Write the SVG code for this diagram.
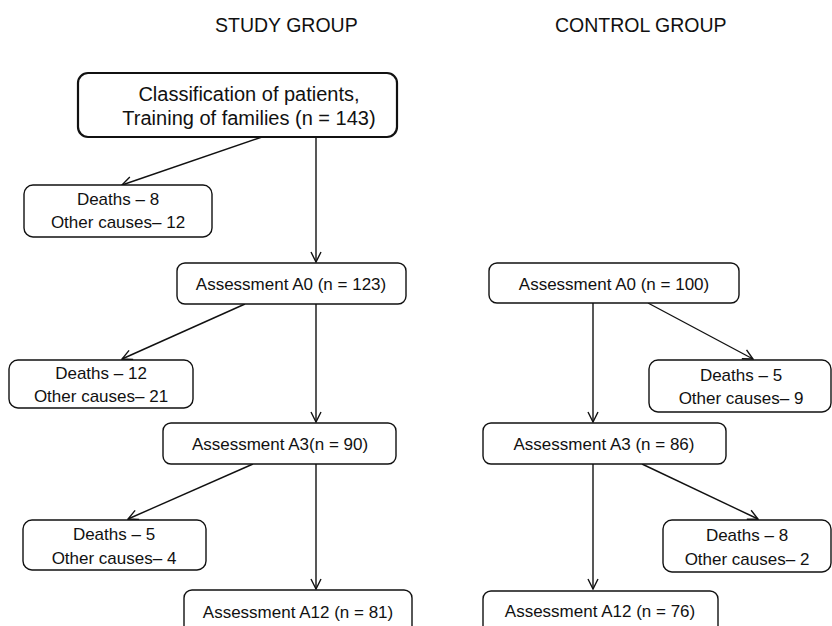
<svg xmlns="http://www.w3.org/2000/svg" width="832" height="626" viewBox="0 0 832 626">
<style>
text{font-family:"Liberation Sans",Arial,sans-serif;fill:#111;text-anchor:middle}
.t{font-size:19.5px;text-anchor:start}
.b{font-size:17px}
.big{font-size:20px}
rect{fill:#fff;stroke:#111;stroke-width:1.4}
rect.thick{stroke-width:2.2}
.c line{stroke:#111;stroke-width:1.4;marker-end:url(#ah)}
</style>
<defs>
<marker id="ah" viewBox="0 0 12 12" refX="11" refY="6" markerWidth="12" markerHeight="12" markerUnits="userSpaceOnUse" orient="auto">
<path d="M1,1 L11,6 L1,11" fill="none" stroke="#111" stroke-width="1.4"/>
</marker>
</defs>
<text class="t" x="215" y="32">STUDY GROUP</text>
<text class="t" x="555" y="32">CONTROL GROUP</text>
<g class="c" id="connectors">
<line x1="262" y1="137" x2="122" y2="185"/>
<line x1="316" y1="137" x2="316" y2="262"/>
<line x1="245" y1="304" x2="122" y2="359"/>
<line x1="316" y1="304" x2="316" y2="422"/>
<line x1="253" y1="464" x2="128" y2="519"/>
<line x1="316" y1="464" x2="316" y2="589"/>
<line x1="593" y1="303" x2="593" y2="422"/>
<line x1="648" y1="303" x2="753" y2="359"/>
<line x1="642" y1="464" x2="758" y2="519"/>
<line x1="593" y1="464" x2="593" y2="589"/>
</g>
<g id="top">
<rect class="thick" x="78" y="73" width="319" height="64" rx="10"/>
<text class="big" x="249" y="101">Classification of patients,</text>
<text class="big" x="249" y="125">Training of families (n = 143)</text>
</g>
<g id="s-d1">
<rect x="24" y="185" width="188" height="52" rx="9"/>
<text class="b" x="118" y="205">Deaths – 8</text>
<text class="b" x="118" y="228">Other causes– 12</text>
</g>
<g id="s-a0">
<rect x="177" y="263" width="229" height="41" rx="8"/>
<text class="b" x="291" y="290">Assessment A0 (n = 123)</text>
</g>
<g id="s-d2">
<rect x="9" y="360" width="184" height="48" rx="9"/>
<text class="b" x="101" y="379">Deaths – 12</text>
<text class="b" x="101" y="402">Other causes– 21</text>
</g>
<g id="s-a3">
<rect x="163" y="423" width="233" height="41" rx="8"/>
<text class="b" x="280" y="450">Assessment A3(n = 90)</text>
</g>
<g id="s-d3">
<rect x="23" y="520" width="183" height="50" rx="9"/>
<text class="b" x="114" y="540">Deaths – 5</text>
<text class="b" x="114" y="564">Other causes– 4</text>
</g>
<g id="s-a12">
<rect x="184" y="590" width="228" height="50" rx="8"/>
<text class="b" x="298" y="618">Assessment A12 (n = 81)</text>
</g>
<g id="c-a0">
<rect x="489" y="263" width="250" height="40" rx="8"/>
<text class="b" x="614" y="290">Assessment A0 (n = 100)</text>
</g>
<g id="c-d1">
<rect x="649" y="360" width="182" height="52" rx="9"/>
<text class="b" x="741" y="381">Deaths – 5</text>
<text class="b" x="741" y="404">Other causes– 9</text>
</g>
<g id="c-a3">
<rect x="483" y="423" width="243" height="41" rx="8"/>
<text class="b" x="604" y="450">Assessment A3 (n = 86)</text>
</g>
<g id="c-d2">
<rect x="663" y="520" width="168" height="52" rx="9"/>
<text class="b" x="747" y="541">Deaths – 8</text>
<text class="b" x="747" y="565">Other causes– 2</text>
</g>
<g id="c-a12">
<rect x="483" y="591" width="235" height="50" rx="8"/>
<text class="b" x="600" y="617">Assessment A12 (n = 76)</text>
</g>
</svg>
